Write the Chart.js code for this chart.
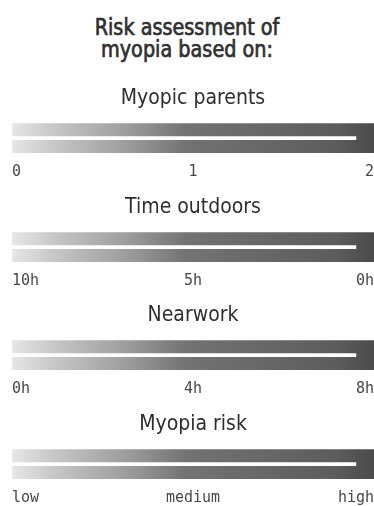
<!DOCTYPE html>
<html>
<head>
<meta charset="utf-8">
<script src="https://cdn.jsdelivr.net/npm/chart.js@4.4.1/dist/chart.umd.min.js"></script>
<style>
html, body { margin: 0; padding: 0; background: #fff; }
#wrap { position: relative; width: 374px; height: 506px; overflow: hidden; }
h1 { position: absolute; top: 16px; left: 0; width: 374px; margin: 0; text-align: center;
     font: normal 23px/22px "DejaVu Sans Condensed", sans-serif; color: #303030;
     -webkit-text-stroke: 0.7px #303030;
     transform: scaleX(0.93); transform-origin: 50% 0; }
.panel { position: absolute; left: 0; width: 374px; height: 94px; }
</style>
</head>
<body>
<div id="wrap">
  <h1>Risk assessment of<br>myopia based on:</h1>
  <div class="panel" style="top:86px"><canvas id="c0"></canvas></div>
  <div class="panel" style="top:195px"><canvas id="c1"></canvas></div>
  <div class="panel" style="top:303px"><canvas id="c2"></canvas></div>
  <div class="panel" style="top:412px"><canvas id="c3"></canvas></div>
</div>
<script>
var panelTitles = ['Myopic parents', 'Time outdoors', 'Nearwork', 'Myopia risk'];
var parentTicks = ['0', '1', '2'];
var outdoorTicks = ['10h', '5h', '0h'];
var nearworkTicks = ['0h', '4h', '8h'];
var riskTicks = ['low', 'medium', 'high'];
var tickSets = [parentTicks, outdoorTicks, nearworkTicks, riskTicks];
// each scale runs from tick 0 to tick 2; the shaded band fills it
var bandValues = [2, 2, 2, 2];
// thin white line inside each band
var lineValues = [1.9, 1.9, 1.9, 1.9];

function bandFill(context) {
    var chart = context.chart;
    var area = chart.chartArea;
    if (!area) return '#888';
    var g = chart.ctx.createLinearGradient(area.left, 0, area.right, 0);
    g.addColorStop(0, '#e6e6e6');
    g.addColorStop(0.12, '#c6c6c6');
    g.addColorStop(0.32, '#9c9c9c');
    g.addColorStop(0.48, '#737373');
    g.addColorStop(0.9, '#5c5c5c');
    g.addColorStop(1, '#4a4a4a');
    return g;
}

function makePanel(i) {
    var ticks = tickSets[i];
    new Chart(document.getElementById('c' + i), {
        type: 'bar',
        data: {
            labels: [panelTitles[i]],
            datasets: [
                {
                    data: [lineValues[i]],
                    backgroundColor: '#ffffff',
                    barThickness: 3,
                    grouped: false,
                    order: 0
                },
                {
                    data: [bandValues[i]],
                    backgroundColor: bandFill,
                    barThickness: 30,
                    grouped: false,
                    order: 1
                }
            ]
        },
        options: {
            indexAxis: 'y',
            responsive: true,
            maintainAspectRatio: false,
            animation: false,
            layout: { padding: { left: 12, right: 0, top: 0, bottom: 0 } },
            scales: {
                y: { display: false },
                x: {
                    min: 0,
                    max: 2,
                    afterFit: function (scale) { scale.height = 27; },
                    grid: { display: true, drawOnChartArea: false, drawTicks: true, tickLength: 10, color: 'rgba(0,0,0,0)' },
                    border: { display: false },
                    ticks: {
                        stepSize: 1,
                        align: 'inner',
                        padding: 0,
                        color: '#484848',
                        font: { family: '"DejaVu Sans Mono", monospace', size: 15 },
                        callback: function (v) { return ticks[v]; }
                    }
                }
            },
            plugins: {
                legend: { display: false },
                tooltip: { enabled: false },
                title: {
                    display: true,
                    text: panelTitles[i],
                    color: '#2e2e2e',
                    font: { family: '"DejaVu Sans Condensed", sans-serif', size: 21, weight: 'normal' },
                    padding: { top: 0, bottom: 12 }
                }
            }
        }
    });
}

for (var i = 0; i < panelTitles.length; i++) {
    makePanel(i);
}
</script>
</body>
</html>
